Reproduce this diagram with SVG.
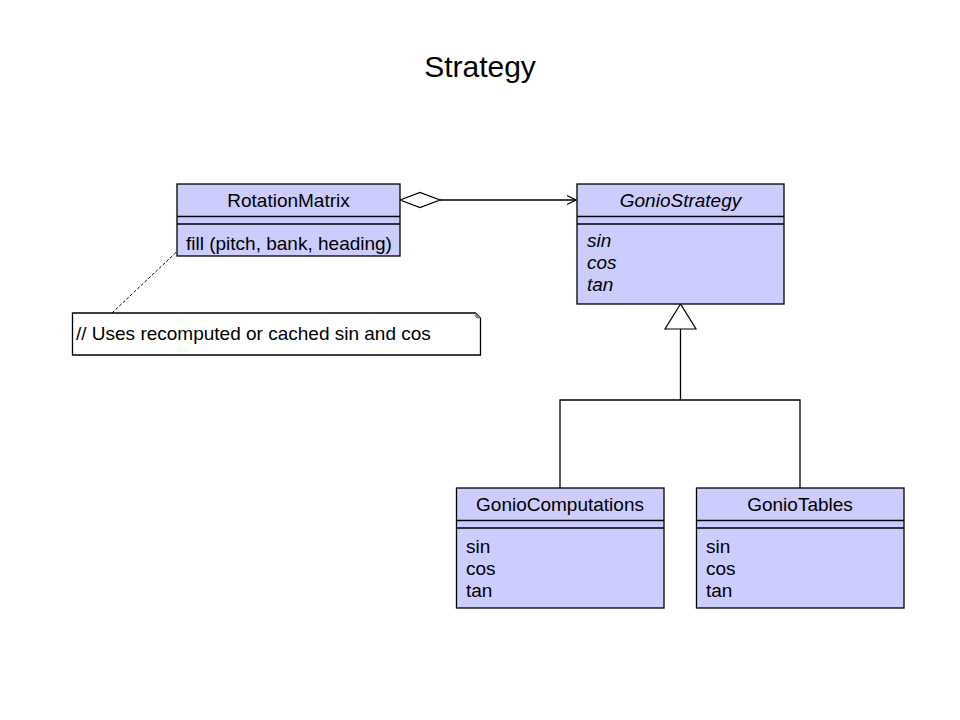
<svg xmlns="http://www.w3.org/2000/svg" width="960" height="720" viewBox="0 0 960 720">
<style>
.box{fill:#ccccff;stroke:#000;stroke-width:1.3}
.ln{stroke:#000;stroke-width:1.3;fill:none}
.t{font-family:"Liberation Sans",Arial,sans-serif;font-size:19px;fill:#000}
.c{text-anchor:middle}
.i{font-style:italic}
</style>
<rect width="960" height="720" fill="#fff"/>
<text class="t c" x="480" y="77" style="font-size:30px">Strategy</text>
<g id="connectors">
<line class="ln" x1="112" y1="313" x2="187" y2="242" stroke-dasharray="3,2" style="stroke-width:1"/>
<polygon points="400,200 420,192.5 440,200 420,207.5" fill="#fff" stroke="#000" stroke-width="1.2"/>
<line class="ln" x1="440" y1="200" x2="576" y2="200"/>
<polyline class="ln" points="567,195.5 576,200 567,204.5"/>
<polygon points="680.5,304 665,329 696,329" fill="#fff" stroke="#000" stroke-width="1.2"/>
<polyline class="ln" points="680.5,329 680.5,400"/>
<polyline class="ln" points="560,488 560,400 800,400 800,488"/>
</g>
<g id="RotationMatrix">
<rect class="box" x="177" y="184" width="223" height="72"/>
<line class="ln" x1="177" y1="216.5" x2="400" y2="216.5"/>
<line class="ln" x1="177" y1="224" x2="400" y2="224"/>
<text class="t c" x="288.5" y="207">RotationMatrix</text>
<text class="t" x="186" y="250">fill (pitch, bank, heading)</text>
</g>
<g id="GonioStrategy">
<rect class="box" x="577" y="184" width="207" height="120"/>
<line class="ln" x1="577" y1="216.5" x2="784" y2="216.5"/>
<line class="ln" x1="577" y1="224" x2="784" y2="224"/>
<text class="t c i" x="680.5" y="207">GonioStrategy</text>
<text class="t i" x="587" y="247">sin</text>
<text class="t i" x="587" y="269">cos</text>
<text class="t i" x="587" y="291">tan</text>
</g>
<g id="GonioComputations">
<rect class="box" x="456.5" y="488" width="207.5" height="120"/>
<line class="ln" x1="456.5" y1="520.5" x2="664" y2="520.5"/>
<line class="ln" x1="456.5" y1="528" x2="664" y2="528"/>
<text class="t c" x="560" y="511">GonioComputations</text>
<text class="t" x="466" y="553">sin</text>
<text class="t" x="466" y="575">cos</text>
<text class="t" x="466" y="597">tan</text>
</g>
<g id="GonioTables">
<rect class="box" x="696.5" y="488" width="207.5" height="120"/>
<line class="ln" x1="696.5" y1="520.5" x2="904" y2="520.5"/>
<line class="ln" x1="696.5" y1="528" x2="904" y2="528"/>
<text class="t c" x="800" y="511">GonioTables</text>
<text class="t" x="706" y="553">sin</text>
<text class="t" x="706" y="575">cos</text>
<text class="t" x="706" y="597">tan</text>
</g>
<g id="Note">
<path d="M72.5,313 L475.5,313 L480.5,318 L480.5,355 L72.5,355 Z" fill="#fff" stroke="#000" stroke-width="1.3"/>
<path d="M475.5,313 L476,317.5 L480.5,318 Z" fill="#999" stroke="#666" stroke-width="0.8"/>
<text class="t" x="76" y="340">// Uses recomputed or cached sin and cos</text>
</g>
</svg>
